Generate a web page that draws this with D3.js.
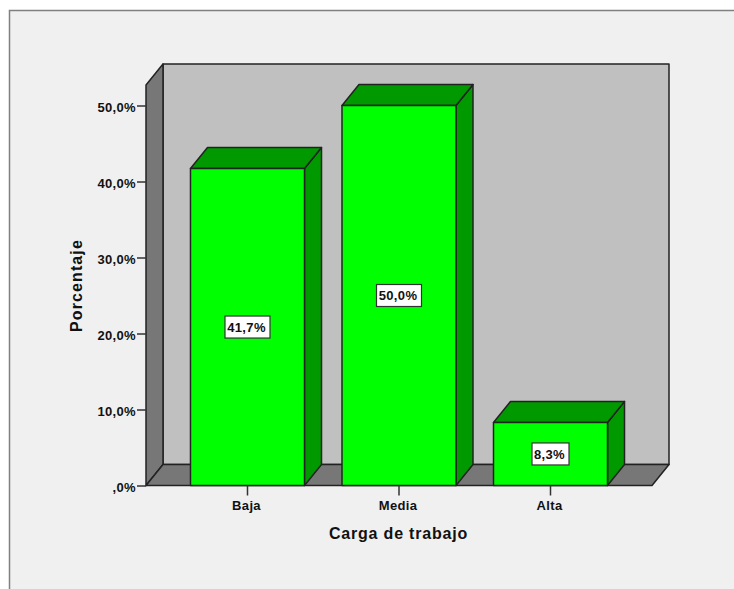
<!DOCTYPE html>
<html>
<head>
<meta charset="utf-8">
<script src="https://cdn.jsdelivr.net/npm/d3@7"></script>
<style>
  html, body { margin: 0; padding: 0; background: #fff; }
  text { font-family: "Liberation Sans", Arial, sans-serif; font-weight: bold; fill: #111; }
  .axis text { font-size: 13px; letter-spacing: 0.35px; }
  .axis line { stroke: #333; stroke-width: 1.5px; }
  .axis path { display: none; }
</style>
</head>
<body>
<div id="chart"></div>
<script>
var categories = ["Baja", "Media", "Alta"];
var percentages = [41.7, 50.0, 8.3];
var yTicks = [0, 10, 20, 30, 40, 50];

var width = 734, height = 589;
var depth = {x: 17, y: 21};
var plot = {left: 146, right: 652, top: 85, bottom: 485.5};

var svg = d3.select("#chart").append("svg")
    .attr("width", width)
    .attr("height", height)
    .style("display", "block");

// setup scales
var yScale = d3.scaleLinear().domain([0, 50]).range([plot.bottom, 105.5]);
var xScale = d3.scaleBand().domain(categories)
    .range([plot.left, plot.right])
    .paddingInner(0.2475)
    .paddingOuter(0.2937);

function comma(v) {
  return v.toFixed(1).replace(".", ",").replace(/^0,/, ",") + "%";
}

function poly(points, fill) {
  return svg.append("polygon")
      .attr("points", points.map(function(p) { return p.join(","); }).join(" "))
      .attr("fill", fill)
      .attr("stroke", "#222")
      .attr("stroke-width", 1.5)
      .attr("stroke-linejoin", "round");
}

// panel background
svg.append("rect")
    .attr("x", 9.5).attr("y", 10.5)
    .attr("width", width).attr("height", height)
    .attr("fill", "#f0f0f0")
    .attr("stroke", "#808080")
    .attr("stroke-width", 1.5);

// back wall, side wall and floor
var backLeft = plot.left + depth.x, backRight = plot.right + depth.x,
    backTop = plot.top - depth.y, backBottom = plot.bottom - depth.y;

poly([[backLeft, backTop], [backRight, backTop], [backRight, backBottom], [backLeft, backBottom]], "#c0c0c0");
poly([[plot.left, plot.top], [backLeft, backTop], [backLeft, backBottom], [plot.left, plot.bottom]], "#777");
poly([[plot.left, plot.bottom], [backLeft, backBottom], [backRight, backBottom], [plot.right, plot.bottom]], "#777");

// bars: right side, top, then front face
categories.forEach(function(c, i) {
  var x0 = xScale(c), x1 = x0 + xScale.bandwidth(), y0 = yScale(percentages[i]), y1 = yScale(0);
  poly([[x1, y0], [x1 + depth.x, y0 - depth.y], [x1 + depth.x, y1 - depth.y], [x1, y1]], "#009900");
  poly([[x0, y0], [x0 + depth.x, y0 - depth.y], [x1 + depth.x, y0 - depth.y], [x1, y0]], "#009900");
  poly([[x0, y0], [x1, y0], [x1, y1], [x0, y1]], "#00ff00");
});

// axes
svg.append("g")
    .attr("class", "axis")
    .attr("transform", "translate(" + plot.left + ",0)")
    .call(d3.axisLeft(yScale).tickValues(yTicks).tickSize(9).tickPadding(1).tickFormat(comma))
    .selectAll("text").attr("dy", "0.45em");

svg.append("g")
    .attr("class", "axis")
    .attr("transform", "translate(0," + plot.bottom + ")")
    .call(d3.axisBottom(xScale).tickSize(10).tickPadding(5))
    .selectAll("text").attr("dx", -1);

// value labels in white boxes
categories.forEach(function(c, i) {
  var v = percentages[i];
  var cx = xScale(c) + xScale.bandwidth() / 2,
      cy = (yScale(v) + yScale(0)) / 2;
  var g = svg.append("g").attr("transform", "translate(" + cx + "," + cy + ")");
  var w = v < 10 ? 37 : 45;
  g.append("rect")
      .attr("x", -w / 2).attr("y", -11)
      .attr("width", w).attr("height", 22)
      .attr("fill", "#fff")
      .attr("stroke", "#333")
      .attr("stroke-width", 1.2);
  g.append("text")
      .attr("x", -1)
      .attr("text-anchor", "middle")
      .attr("dy", "0.38em")
      .style("font-size", "13px")
      .style("letter-spacing", "0.35px")
      .text(comma(v));
});

// axis titles
svg.append("text")
    .attr("x", 398.5).attr("y", 539)
    .attr("text-anchor", "middle")
    .style("font-size", "16px")
    .style("letter-spacing", "0.8px")
    .text("Carga de trabajo");

svg.append("text")
    .attr("transform", "translate(81.5,285.5) rotate(-90)")
    .attr("text-anchor", "middle")
    .style("font-size", "16px")
    .style("letter-spacing", "1.1px")
    .text("Porcentaje");
</script>
</body>
</html>
